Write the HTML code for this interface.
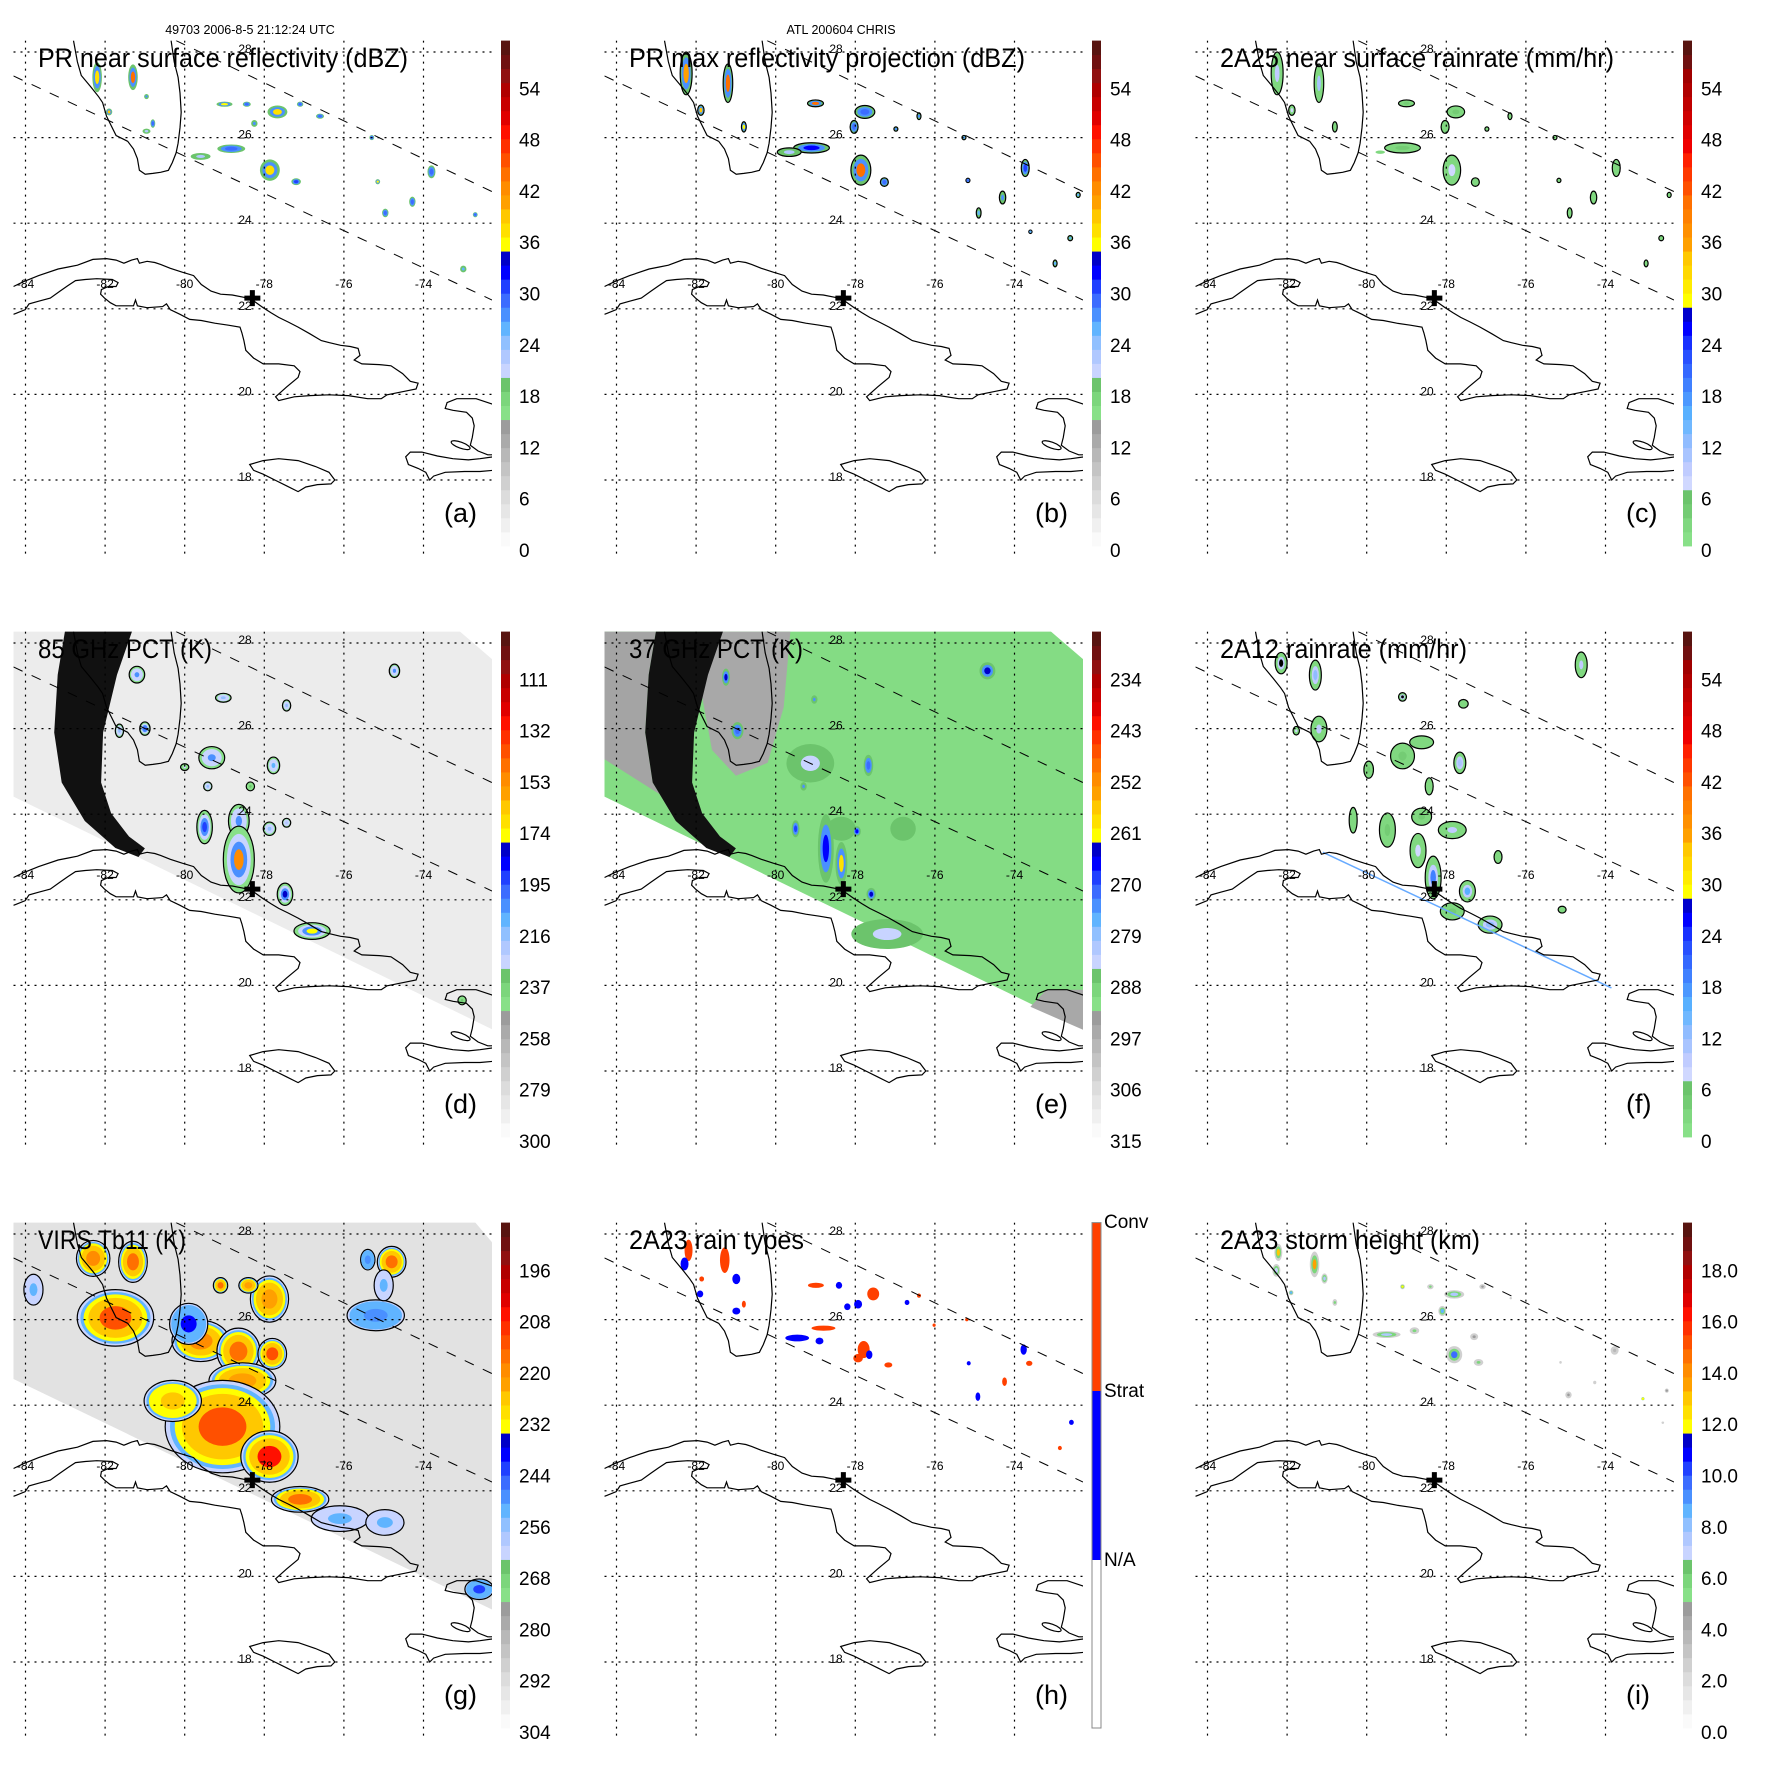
<!DOCTYPE html>
<html><head><meta charset="utf-8"><title>TRMM overpass panels</title>
<style>
html,body{margin:0;padding:0;background:#fff;}
svg{display:block;font-family:"Liberation Sans",Arial,sans-serif;}
</style></head>
<body>
<svg id="chart" width="1771" height="1771" viewBox="0 0 1771 1771" xmlns="http://www.w3.org/2000/svg">
<rect x="0" y="0" width="1771" height="1771" fill="#fff"/>
</svg>
<script>
// ---------------- DATA ----------------
const ticksA=[0,6,12,18,24,30,36,42,48,54];
const ticksB=[0,6,12,18,24,30,36,42,48,54];
const ticksC=[0,6,12,18,24,30,36,42,48,54];
const ticksD=[300,279,258,237,216,195,174,153,132,111];
const ticksE=[315,306,297,288,279,270,261,252,243,234];
const ticksF=[0,6,12,18,24,30,36,42,48,54];
const ticksG=[304,292,280,268,256,244,232,220,208,196];
const ticksI=['0.0','2.0','4.0','6.0','8.0','10.0','12.0','14.0','16.0','18.0'];
const ticksH=['N/A','Strat','Conv'];
// rain cells: [lon, lat, rx(deg), ry(deg), value]
const cellsA=[[-82.2,27.41,.12,.35,38],[-81.3,27.41,.12,.3,45],[-80.96,26.96,.06,.06,28],[-81.9,26.6,.08,.08,40],
[-80.8,26.33,.06,.1,30],[-80.96,26.15,.1,.06,24],[-79.0,26.78,.2,.06,36],[-78.44,26.78,.1,.06,30],[-78.25,26.33,.08,.08,28],
[-77.67,26.6,.25,.15,38],[-78.83,25.74,.35,.1,30],[-79.6,25.56,.25,.08,24],[-77.86,25.24,.25,.25,38],[-77.2,24.97,.12,.08,32],
[-73.8,25.2,.1,.15,30],[-74.28,24.5,.08,.12,30],[-74.96,24.24,.08,.1,30],[-72.7,24.2,.06,.06,30],[-73.0,22.93,.08,.08,26],
[-75.15,24.97,.06,.06,36],[-77.1,26.78,.08,.06,30],[-76.6,26.5,.1,.06,30],[-75.3,26.0,.06,.06,30]];
const cellsB=[[-82.25,27.5,.15,.5,42],[-81.2,27.27,.12,.45,44],[-81.88,26.64,.08,.12,40],[-80.8,26.25,.06,.12,36],
[-79.0,26.8,.2,.08,44],[-77.76,26.6,.25,.15,30],[-78.03,26.25,.1,.15,30],[-79.1,25.76,.45,.12,34],[-79.66,25.66,.3,.1,24],
[-77.86,25.24,.25,.35,44],[-77.27,24.96,.1,.1,30],[-73.73,25.29,.1,.2,32],[-74.3,24.6,.08,.15,28],[-74.9,24.24,.06,.12,26],
[-75.17,25.0,.05,.05,30],[-72.6,23.65,.06,.06,26],[-72.98,23.06,.05,.08,26],[-76.4,26.5,.05,.08,28],[-76.98,26.2,.05,.05,28],
[-75.27,26.0,.05,.05,28],[-72.4,24.66,.05,.06,26],[-73.6,23.8,.04,.04,26]];
const cellsC=[[-82.25,27.5,.15,.5,10],[-81.2,27.27,.12,.45,12],[-81.88,26.64,.08,.12,8],[-80.8,26.25,.06,.12,4],
[-79.0,26.8,.2,.08,6],[-77.76,26.6,.22,.14,5],[-78.03,26.25,.1,.15,4],[-79.1,25.76,.45,.12,5],[-79.66,25.66,.3,.1,3],
[-77.86,25.24,.22,.35,8],[-77.27,24.96,.1,.1,4],[-73.73,25.29,.1,.2,4],[-74.3,24.6,.08,.15,4],[-74.9,24.24,.06,.12,4],
[-75.17,25.0,.05,.05,4],[-72.6,23.65,.06,.06,4],[-72.98,23.06,.05,.08,4],[-76.4,26.5,.05,.08,4],[-76.98,26.2,.05,.05,4],
[-75.27,26.0,.05,.05,4],[-72.4,24.66,.05,.06,4]];
const cellsD=[[-81.2,27.26,.15,.15,200],[-79.03,26.72,.15,.08,215],[-77.44,26.54,.08,.1,215],[-74.73,27.35,.1,.12,200],
[-81.64,25.95,.08,.12,215],[-81.0,26.0,.1,.12,195],[-79.32,25.32,.25,.2,200],[-77.77,25.14,.12,.15,205],[-80.0,25.1,.08,.06,225],
[-79.42,24.65,.08,.08,215],[-78.35,24.65,.08,.08,230],[-78.64,23.84,.2,.3,200],[-79.5,23.7,.15,.3,190],[-77.87,23.66,.12,.12,210],
[-77.44,23.8,.08,.08,220],[-78.64,22.94,.3,.6,150],[-77.48,22.13,.15,.2,180],[-76.8,21.27,.35,.15,170],[-73.03,19.65,.08,.08,230]];
const cellsE=[[-78.35,23.66,.9,.7,284],[-76.8,23.66,.8,.7,286],[-79.13,25.19,.6,.45,282],[-81.25,27.2,.1,.2,262],
[-79.03,26.68,.08,.1,272],[-80.96,25.95,.15,.2,270],[-77.67,25.14,.12,.25,270],[-79.3,24.65,.08,.1,272],
[-78.74,23.2,.2,.8,266],[-78.35,22.85,.15,.5,258],[-79.5,23.66,.1,.2,268],[-77.96,23.6,.1,.12,265],
[-77.6,22.13,.12,.15,262],[-76.8,21.3,.35,.2,258],[-74.68,27.35,.2,.2,262],[-77.2,21.2,.9,.35,282]];
const cellsF=[[-82.15,27.53,.15,.25,-1],[-81.29,27.25,.15,.35,14],[-81.2,25.99,.2,.3,10],[-81.77,25.95,.08,.1,8],
[-79.1,26.74,.1,.1,-1],[-77.57,26.58,.12,.1,4],[-78.62,25.68,.3,.15,4],[-79.1,25.36,.3,.3,6],[-79.95,25.04,.12,.2,5],
[-77.66,25.2,.15,.25,12],[-78.43,24.65,.1,.2,4],[-80.34,23.86,.1,.3,4],[-79.48,23.63,.2,.4,6],[-78.62,23.94,.25,.2,6],
[-77.85,23.63,.35,.2,10],[-78.71,23.15,.2,.4,8],[-78.33,22.52,.2,.5,20],[-77.47,22.2,.2,.25,16],[-76.7,23.0,.1,.15,4],
[-76.9,21.42,.3,.2,14],[-77.85,21.73,.3,.2,6],[-74.61,27.49,.15,.3,10],[-75.09,21.77,.1,.08,4]];
const cellsG=[[-81.74,26.04,.8,.55,212],[-82.3,27.43,.35,.35,218],[-81.3,27.35,.3,.4,216],[-79.6,25.5,.6,.4,218],
[-78.65,25.26,.45,.45,216],[-78.55,24.57,.7,.35,220],[-77.8,25.2,.3,.3,212],[-77.87,26.48,.4,.45,220],[-78.4,26.8,.2,.15,220],
[-79.1,26.8,.15,.15,214],[-79.05,23.5,1.2,.9,212],[-77.87,22.8,.6,.5,206],[-77.1,21.8,.6,.25,216],[-76.1,21.35,.6,.25,250],
[-74.97,21.26,.4,.25,252],[-74.8,27.35,.3,.3,216],[-75.4,27.4,.15,.2,246],[-75.2,26.1,.6,.3,248],[-75.0,26.8,.2,.3,250],
[-80.3,24.1,.6,.4,226],[-79.9,25.9,.4,.4,236],[-83.8,26.7,.2,.3,250],[-72.6,19.7,.3,.2,240]];
const cellsH=[[-82.19,27.62,.1,.25,2],[-82.29,27.3,.1,.15,1],[-81.28,27.39,.12,.3,2],[-80.99,26.95,.1,.12,1],
[-81.86,26.95,.06,.06,2],[-81.9,26.6,.08,.08,1],[-80.8,26.36,.05,.08,2],[-80.99,26.2,.1,.08,1],[-78.99,26.8,.2,.06,2],
[-78.41,26.8,.08,.08,1],[-77.55,26.6,.15,.15,2],[-77.93,26.36,.1,.1,1],[-78.2,26.3,.08,.08,1],[-78.8,25.8,.3,.06,2],
[-79.46,25.57,.3,.08,1],[-78.9,25.5,.1,.08,1],[-77.79,25.3,.15,.2,2],[-77.93,25.1,.12,.1,2],[-77.17,24.94,.1,.06,2],
[-77.65,25.18,.08,.1,1],[-76.7,26.4,.06,.06,1],[-76.4,26.56,.05,.05,2],[-73.77,25.3,.08,.12,1],[-73.63,24.98,.08,.06,2],
[-74.25,24.55,.06,.1,2],[-74.92,24.2,.06,.1,1],[-72.57,23.6,.06,.06,1],[-72.86,23.0,.05,.05,2],[-75.15,24.98,.05,.05,1],
[-76.02,25.87,.04,.04,2],[-75.2,26.0,.04,.04,2]];
const cellsI=[[-82.22,27.57,.1,.2,13],[-81.31,27.29,.12,.3,14],[-82.27,27.15,.1,.15,7],[-81.06,26.96,.08,.12,8],
[-81.9,26.63,.06,.06,9],[-80.8,26.4,.06,.08,6],[-79.5,25.65,.35,.08,8],[-78.8,25.74,.12,.08,6],[-79.1,26.77,.06,.06,12],
[-78.4,26.77,.08,.06,6],[-77.8,26.59,.25,.1,8],[-78.1,26.2,.1,.12,9],[-77.8,25.18,.2,.2,10],[-77.19,25.0,.12,.08,6],
[-77.3,25.6,.1,.08,5],[-75.13,25.0,.08,.08,3],[-74.27,24.53,.1,.1,3],[-73.77,25.28,.1,.1,4],[-74.93,24.24,.08,.08,5],
[-72.56,23.59,.08,.06,3],[-73.06,24.15,.03,.03,12],[-72.46,24.34,.05,.05,5],[-76.38,26.5,.06,.06,3],[-77.09,26.77,.08,.06,5]];

// ---------------- GEOMETRY ----------------
const NS='http://www.w3.org/2000/svg';
const svg=document.getElementById('chart');
function mk(tag,parent){const e=document.createElementNS(NS,tag);parent.appendChild(e);return e;}
function X(lon){return 25.5+(lon+84)*39.8;}
function Y(lat){return 52+(28-lat)*42.8;}
const MAP={x:13.5,y:40.6,w:478.5,h:514.4};
const CB={x:501,w:9,top:40.6,bot:546};

const GRAYS=['#fafafa','#f0f0f0','#e6e6e6','#dcdcdc','#d0d0d0','#c4c4c4','#b8b8b8','#aaaaaa','#9c9c9c'];
const STD=GRAYS.concat(['#88e088','#7cd67c','#6cc46c',
'#c8d4ff','#b0c8ff','#90c0ff','#60b4ff','#4a90ff','#3c6cff','#2040ff','#0000ff','#0000c8',
'#ffff00','#ffe000','#ffc800','#ffa000','#ff8c00','#ff7000',
'#ff5000','#ff3000','#ff1000','#e00000','#c80000','#b00000',
'#901010','#701010','#581410']);
const RAIN=['#88e088','#80d880','#74cc74','#6cc46c',
'#d0d8ff','#c0ccff','#a8c4ff','#90bcff','#70b8ff','#58b0ff','#4c98ff','#4080ff','#3468ff','#2850ff','#1830ff','#0000ff','#0000cc',
'#ffff00','#ffec00','#ffd800','#ffc800','#ffa000','#ff9000','#ff8000','#ff7000',
'#ff5000','#ff3800','#ff2000','#f00000','#e00000','#d00000','#c00000','#b00000','#a00000',
'#701010','#581410'];

const coastCuba=[[35,740],[60,728],[100,712],[150,695],[175,690],[200,685],[240,670],[275,668],[300,672],[320,680],[340,672],[355,668],[360,680],[380,675],[400,678],[415,683],[440,693],[470,703],[500,712],[520,735],[545,752],[570,760],[600,762],[630,768],[652,775],[680,795],[700,808],[720,820],[745,832],[770,845],[800,862],[830,880],[850,885],[880,892],[905,895],[925,900],[930,918],[915,930],[935,940],[980,942],[1010,945],[1040,965],[1060,985],[1080,990],[1075,1005],[1040,1012],[1000,1020],[985,1030],[950,1030],[900,1022],[850,1020],[800,1022],[760,1025],[720,1035],[712,1025],[740,1000],[770,975],[775,960],[760,945],[720,940],[680,940],[655,925],[635,905],[630,880],[625,860],[620,845],[590,840],[555,835],[520,828],[490,825],[465,812],[440,800],[430,785],[420,792],[380,795],[355,790],[350,775],[345,790],[300,790],[285,782],[270,770],[260,760],[262,748],[280,740],[300,740],[305,730],[290,722],[250,720],[220,722],[195,725],[175,738],[155,752],[130,770],[100,778],[75,785],[65,800],[40,810],[35,812]];
const coastFla=[[190,105],[200,160],[210,195],[235,225],[255,250],[265,265],[275,300],[285,320],[300,350],[330,365],[345,385],[355,410],[360,440],[375,450],[395,448],[415,445],[435,440],[445,420],[455,395],[460,370],[465,330],[468,290],[465,240],[460,200],[450,160],[442,105]];
const coastJam=[[645,1200],[680,1190],[720,1185],[770,1190],[815,1205],[850,1220],[865,1240],[855,1250],[820,1252],[790,1258],[770,1270],[740,1255],[710,1240],[680,1225],[655,1215],[645,1200]];
const coastHisN=[[1275,1045],[1230,1030],[1180,1030],[1155,1040],[1150,1055],[1170,1060],[1205,1065],[1220,1080],[1225,1100],[1220,1130],[1215,1150],[1235,1165],[1260,1175],[1275,1175]];
const coastHisS=[[1275,1215],[1240,1218],[1200,1218],[1150,1220],[1120,1230],[1110,1240],[1100,1220],[1080,1210],[1055,1200],[1048,1180],[1060,1168],[1090,1168],[1130,1178],[1170,1185],[1210,1188],[1240,1185],[1275,1180]];
const bandL=[[-82.95,28.6],[-83.19,27.26],[-83.28,25.91],[-83.09,24.74],[-82.51,23.84],[-81.74,23.21],[-81.16,23.0]];
const bandR=[[-81.2,28.6],[-81.7,27.26],[-82.05,25.91],[-82.1,24.74],[-81.85,24.02],[-81.4,23.48],[-81.0,23.2]];

function ptsZ(a){return a.map(p=>(p[0]*0.3871).toFixed(1)+','+(p[1]*0.3871).toFixed(1)).join(' ');}
function ptsG(a){return a.map(p=>X(p[0]).toFixed(1)+','+Y(p[1]).toFixed(1)).join(' ');}

const panels=[
 {id:'a',col:0,row:0,title:'PR near surface reflectivity (dBZ)',tl:370,ticks:ticksA,v0:0,step:6,pal:STD,cells:cellsA,rings:[[1,20],[0.75,28]],core:.45,outline:false,header:'49703 2006-8-5 21:12:24 UTC'},
 {id:'b',col:1,row:0,title:'PR max reflectivity projection (dBZ)',tl:396,ticks:ticksB,v0:0,step:6,pal:STD,cells:cellsB,rings:[[1,20],[0.75,28]],core:.45,outline:true,header:'ATL 200604 CHRIS'},
 {id:'c',col:2,row:0,title:'2A25 near surface rainrate (mm/hr)',tl:394,ticks:ticksC,v0:0,step:6,pal:RAIN,cells:cellsC,rings:[[1,3]],core:.4,outline:true},
 {id:'d',col:0,row:1,title:'85 GHz PCT (K)',tl:174,ticks:ticksD,v0:300,step:-21,pal:STD,cells:cellsD,rings:[[1.3,240],[1,222],[0.7,200]],core:.4,outline:true,swath:'d'},
 {id:'e',col:1,row:1,title:'37 GHz PCT (K)',tl:174,ticks:ticksE,v0:315,step:-9,pal:STD,cells:cellsE,rings:[[1,284],[0.7,272]],core:.4,outline:false,swath:'e'},
 {id:'f',col:2,row:1,title:'2A12 rainrate (mm/hr)',tl:247,ticks:ticksF,v0:0,step:6,pal:RAIN,cells:cellsF,rings:[[1,3],[0.6,10]],core:.35,outline:true,swath:'f'},
 {id:'g',col:0,row:2,title:'VIRS Tb11 (K)',tl:148,ticks:ticksG,v0:304,step:-12,pal:STD,cells:cellsG,rings:[[1.2,262],[1.1,250],[1.0,232],[0.85,224]],core:.5,outline:true,swath:'g'},
 {id:'h',col:1,row:2,title:'2A23 rain types',tl:175,ticks:null,cells:cellsH},
 {id:'i',col:2,row:2,title:'2A23 storm height (km)',tl:260,ticks:ticksI,v0:0,step:2,pal:STD,cells:cellsI,rings:[[1,3],[0.7,6]],core:.4,outline:false}
];

function colorOf(p,v){
  if(v<0) return '#000';
  const y=556-(v-p.v0)/p.step*51.3;
  let i=Math.floor((CB.bot-y)/((CB.bot-CB.top)/36));
  i=Math.max(0,Math.min(35,i));
  return p.pal[i];
}
function inten(p,v){return p.step>0?v:-v;}

panels.forEach(p=>{
  const g=mk('g',svg);
  g.setAttribute('transform','translate('+(p.col*591)+','+(p.row*591)+')');
  
  
  const cp=mk('clipPath',g); cp.setAttribute('id','clip-'+p.id);
  const cr=mk('rect',cp); cr.setAttribute('x',MAP.x);cr.setAttribute('y',MAP.y);cr.setAttribute('width',MAP.w);cr.setAttribute('height',MAP.h);
  const m=mk('g',g); m.setAttribute('clip-path','url(#clip-'+p.id+')');
  
  

  if(p.swath==='d'||p.swath==='e'){
    const sw=mk('polygon',m);
    sw.setAttribute('points',ptsG([[-84.5,28.6],[-73.5,28.6],[-72.0,27.4],[-72.0,18.85],[-84.5,24.5]]));
    sw.setAttribute('fill',p.swath==='d'?'#ececec':'#84dc84');
    
    
    if(p.swath==='e'){
      const gl=mk('polygon',m);
      gl.setAttribute('points',ptsG([[-84.5,28.6]].concat(bandL).concat([[-82.8,24.4],[-84.5,25.4]])));
      gl.setAttribute('fill','#a4a4a4');
      
      
      const gf=mk('polygon',m);
      gf.setAttribute('points',ptsG([[-81.5,28.6],[-79.6,28.6],[-79.8,26.5],[-80.2,25.2],[-81.0,24.9],[-81.6,25.5],[-81.9,27.0]]));
      gf.setAttribute('fill','#a8a8a8');
      
      
      const gs=mk('polygon',m);
      gs.setAttribute('points',ptsG([[-73.2,19.9],[-72.0,19.9],[-72.0,18.85],[-73.6,19.5]]));
      gs.setAttribute('fill','#a8a8a8');
      
      
    }
  }
  if(p.swath==='g'){
    const sw=mk('polygon',m);
    sw.setAttribute('points',ptsG([[-84.5,28.6],[-73.0,28.6],[-72.0,27.5],[-72.0,19.1],[-84.5,24.7]]));
    sw.setAttribute('fill','#e2e2e2');
    
    
  }

  p.cells.forEach(c=>{
    const cx=X(c[0]),cy=Y(c[1]),rx=c[2]*39.8,ry=c[3]*42.8,v=c[4];
    if(p.id==='h'){
      const e=mk('ellipse',m);
      e.setAttribute('cx',cx);e.setAttribute('cy',cy);e.setAttribute('rx',Math.max(rx,1.5));e.setAttribute('ry',Math.max(ry,1.5));
      e.setAttribute('fill',v===2?'#ff4000':'#0000ff');
      
      
      return;
    }
    let first=true;
    p.rings.forEach(r=>{
      if(inten(p,r[1])>=inten(p,v) && v>=0) return;
      const e=mk('ellipse',m);
      e.setAttribute('cx',cx);e.setAttribute('cy',cy);
      e.setAttribute('rx',Math.max(rx*r[0],1.5));e.setAttribute('ry',Math.max(ry*r[0],1.5));
      e.setAttribute('fill',colorOf(p,r[1]));
      if(first&&p.outline){e.setAttribute('stroke','#000');e.setAttribute('stroke-width','1.2');}
      
      
      first=false;
    });
    const k=mk('ellipse',m);
    k.setAttribute('cx',cx);k.setAttribute('cy',cy);
    k.setAttribute('rx',Math.max(rx*p.core,1.2));k.setAttribute('ry',Math.max(ry*p.core,1.2));
    k.setAttribute('fill',colorOf(p,v));
    
    
  });

  if(p.swath==='d'||p.swath==='e'){
    const b=mk('polygon',m);
    b.setAttribute('points',ptsG(bandL.concat(bandR.slice().reverse())));
    b.setAttribute('fill','#111');
    
    
  }
  if(p.swath==='f'){
    const bl=mk('line',m);
    bl.setAttribute('x1',X(-81.1));bl.setAttribute('y1',Y(23.11));bl.setAttribute('x2',X(-73.85));bl.setAttribute('y2',Y(19.94));
    bl.setAttribute('stroke','#66aaff');bl.setAttribute('stroke-width','1.5');
    
    
  }

  [['cuba',coastCuba,false],['florida',coastFla,false],['jamaica',coastJam,true],['hispaniola-north',coastHisN,false],['hispaniola-south',coastHisS,false]].forEach(cst=>{
    const pl=mk(cst[2]?'polygon':'polyline',m);
    pl.setAttribute('points',ptsZ(cst[1]));
    pl.setAttribute('fill','none');pl.setAttribute('stroke','#000');pl.setAttribute('stroke-width','1.2');
    
    
  });
  const lake=mk('ellipse',m);
  lake.setAttribute('cx',1190*0.3871);lake.setAttribute('cy',1150*0.3871);lake.setAttribute('rx',10);lake.setAttribute('ry',3);
  lake.setAttribute('transform','rotate(20 '+(1190*0.3871)+' '+(1150*0.3871)+')');
  lake.setAttribute('fill','none');lake.setAttribute('stroke','#000');lake.setAttribute('stroke-width','1.2');
  
  

  [[13.5,76,492,300],[176,40.6,492,191.6]].forEach((l,k)=>{
    const ln=mk('line',m);
    ln.setAttribute('x1',l[0]);ln.setAttribute('y1',l[1]);ln.setAttribute('x2',l[2]);ln.setAttribute('y2',l[3]);
    ln.setAttribute('stroke','#000');ln.setAttribute('stroke-width','1');ln.setAttribute('stroke-dasharray','10,10');
    
    
  });

  [-84,-82,-80,-78,-76,-74].forEach(lon=>{
    const ln=mk('line',m);
    ln.setAttribute('x1',X(lon));ln.setAttribute('x2',X(lon));ln.setAttribute('y1',MAP.y);ln.setAttribute('y2',MAP.y+MAP.h);
    ln.setAttribute('stroke','#000');ln.setAttribute('stroke-width','1.2');ln.setAttribute('stroke-dasharray','2,5');
    
    
    const t=mk('text',m);
    t.setAttribute('x',X(lon));t.setAttribute('y',288);t.setAttribute('font-size','12');t.setAttribute('text-anchor','middle');
    t.textContent=String(lon);
    
    
  });
  [28,26,24,22,20,18].forEach(lat=>{
    const ln=mk('line',m);
    ln.setAttribute('y1',Y(lat));ln.setAttribute('y2',Y(lat));ln.setAttribute('x1',MAP.x);ln.setAttribute('x2',MAP.x+MAP.w);
    ln.setAttribute('stroke','#000');ln.setAttribute('stroke-width','1.2');ln.setAttribute('stroke-dasharray','2,5');
    
    
    const t=mk('text',m);
    t.setAttribute('x',245);t.setAttribute('y',Y(lat)+1);t.setAttribute('font-size','12');t.setAttribute('text-anchor','middle');
    t.textContent=String(lat);
    
    
  });

  const sx=X(-78.3),sy=Y(22.25);
  const st=mk('path',m);
  st.setAttribute('d','M'+(sx-8)+' '+(sy-2.5)+'h5.5v-5.5h5v5.5h5.5v5h-5.5v5.5h-5v-5.5h-5.5z');
  st.setAttribute('fill','#000');
  
  

  const tt=mk('text',g);
  tt.setAttribute('x',38);tt.setAttribute('y',67);tt.setAttribute('font-size','27');
  tt.setAttribute('textLength',p.tl);tt.setAttribute('lengthAdjust','spacingAndGlyphs');
  tt.textContent=p.title;
  
  
  if(p.header){
    const h=mk('text',g);
    h.setAttribute('x',250);h.setAttribute('y',34);h.setAttribute('font-size','12.5');h.setAttribute('text-anchor','middle');
    h.textContent=p.header;
    
    
  }
  const lt=mk('text',g);
  lt.setAttribute('x',444);lt.setAttribute('y',522);lt.setAttribute('font-size','27');
  lt.textContent='('+p.id+')';
  
  

  const cb=mk('g',g);
  
  
  if(p.id==='h'){
    const segs=[['#ffffff',378,546],['#0000ff',209,378],['#ff4000',40.6,209]];
    segs.forEach(s=>{
      const r=mk('rect',cb);
      r.setAttribute('x',CB.x);r.setAttribute('y',s[1]);r.setAttribute('width',CB.w);r.setAttribute('height',s[2]-s[1]);r.setAttribute('fill',s[0]);
      
      
    });
    const o=mk('rect',cb);
    o.setAttribute('x',CB.x);o.setAttribute('y',40.6);o.setAttribute('width',CB.w);o.setAttribute('height',546-40.6);
    o.setAttribute('fill','none');o.setAttribute('stroke','#888');o.setAttribute('stroke-width','1');
    
    
    [[384,0],[215,1],[46,2]].forEach(q=>{
      const t=mk('text',cb);
      t.setAttribute('x',513);t.setAttribute('y',q[0]);t.setAttribute('font-size','19');
      t.textContent=ticksH[q[1]];
      
      
    });
  } else {
    const ch=(CB.bot-CB.top)/36;
    p.pal.forEach((col,i)=>{
      const r=mk('rect',cb);
      r.setAttribute('x',CB.x);r.setAttribute('y',(CB.bot-(i+1)*ch).toFixed(2));r.setAttribute('width',CB.w);r.setAttribute('height',(ch+0.4).toFixed(2));r.setAttribute('fill',col);
      
      
    });
    p.ticks.forEach((v,i)=>{
      const t=mk('text',cb);
      t.setAttribute('x',519);t.setAttribute('y',(556-i*51.3+1).toFixed(1));t.setAttribute('font-size','19');
      t.textContent=String(v);
      
      
    });
  }
});
</script>
</body></html>
